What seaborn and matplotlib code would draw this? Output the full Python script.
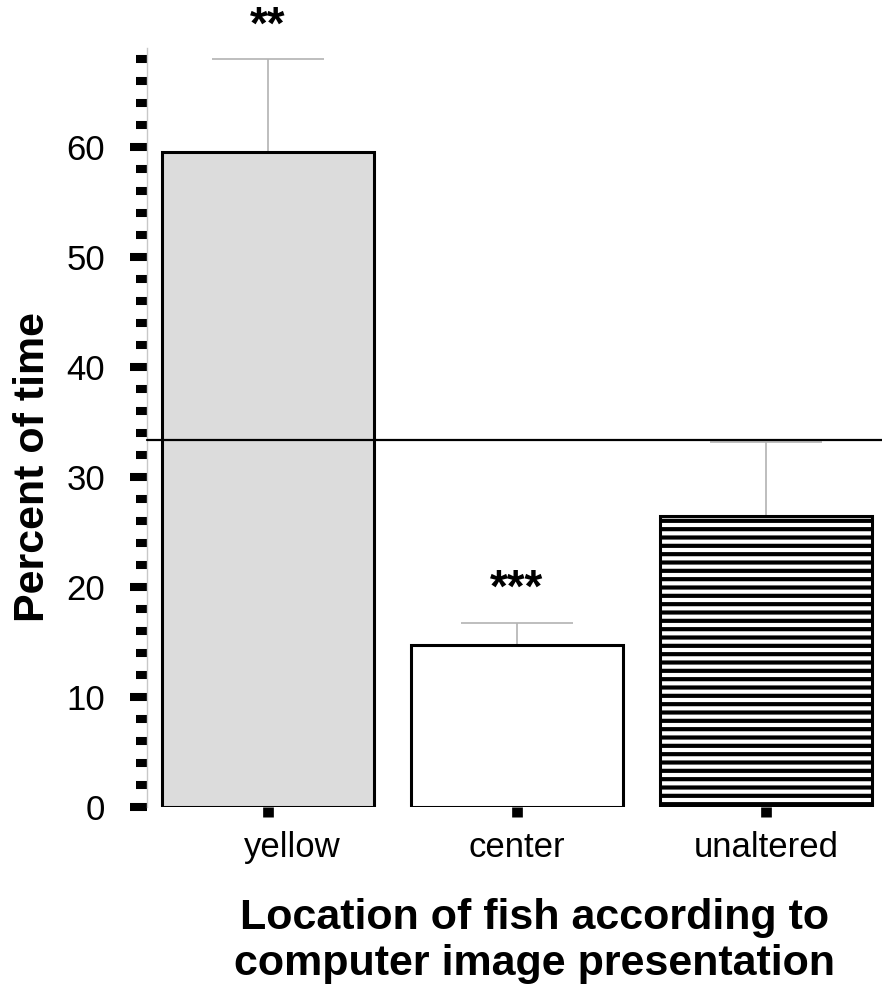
import matplotlib
matplotlib.use("Agg")
import matplotlib.pyplot as plt
import matplotlib.transforms as mtransforms
from matplotlib.ticker import MultipleLocator
import seaborn as sns
import numpy as np
import pandas as pd

# ---- data ----
categories = ["yellow", "center", "unaltered"]
means = [59.6, 14.7, 26.4]
sem_upper = [8.4, 2.0, 6.8]
stars = ["**", "***", ""]
chance_level = 33.33
fills = ["#dcdcdc", "#ffffff", "#ffffff"]
hatches = ["", "", "--"]

sns.set_theme(style="white")
plt.rcParams["font.family"] = ["Liberation Sans", "DejaVu Sans"]
plt.rcParams["text.color"] = "black"
plt.rcParams["xtick.labelcolor"] = "black"
plt.rcParams["ytick.labelcolor"] = "black"
plt.rcParams["hatch.linewidth"] = 3.0
plt.rcParams["hatch.color"] = "black"

fig = plt.figure(figsize=(8.82, 9.91), dpi=100)
ax = fig.add_axes([147 / 882, 184.5 / 991, 735 / 882, 758.3 / 991])

df = pd.DataFrame({"cat": categories, "val": means})
sns.barplot(data=df, x="cat", y="val", hue="cat", palette=fills, legend=False,
            width=0.85, edgecolor="black", linewidth=2.2, errorbar=None, ax=ax,
            saturation=1)
for p, h in zip(ax.patches, hatches):
    if h:
        p.set_hatch(h)

x = np.arange(len(categories))
ax.errorbar(x, means, yerr=[np.zeros(len(means)), sem_upper], fmt="none",
            ecolor="#b3b3b3", elinewidth=1.2, capsize=40, capthick=1.2, zorder=0.5)

ax.axhline(chance_level, color="black", lw=1.6, zorder=3, clip_on=False)

for xi, m, e, s in zip(x, means, sem_upper, stars):
    if s:
        ax.text(xi, m + e + 3.0, s, ha="center", va="center", fontsize=33,
                fontweight="bold", clip_on=False)

ax.set_xlim(-0.486, 2.466)
ax.set_ylim(0, 69)
ax.yaxis.set_major_locator(MultipleLocator(10))
ax.yaxis.set_minor_locator(MultipleLocator(2))
ax.tick_params(axis="y", which="major", length=12, width=5.8, color="black",
               labelsize=25, pad=18, direction="out", left=True)
ax.tick_params(axis="y", which="minor", length=8, width=5.8, color="black",
               direction="out", left=True)
ax.tick_params(axis="x", length=7.5, width=7.7, color="black", labelsize=25,
               pad=10, direction="out", bottom=True)
for sp in ["top", "right", "bottom"]:
    ax.spines[sp].set_visible(False)
ax.spines["left"].set_color("#c8c8c8")
ax.spines["left"].set_linewidth(1.0)
ax.set_xlabel("")
ax.set_ylabel("")

# shift first label slightly right as in reference
lbl = ax.get_xticklabels()[0]
lbl.set_transform(lbl.get_transform() + mtransforms.ScaledTranslation(24 / 100, 0, fig.dpi_scale_trans))

fig.text(535 / 882, (991 - 898) / 991, "Location of fish according to\ncomputer image presentation",
         ha="center", va="top", fontsize=31, fontweight="bold", linespacing=1.2)
fig.text(33 / 882, (991 - 467) / 991, "Percent of time", rotation=90,
         ha="center", va="center", fontsize=31, fontweight="bold")

fig.savefig("out.png", dpi=100)
